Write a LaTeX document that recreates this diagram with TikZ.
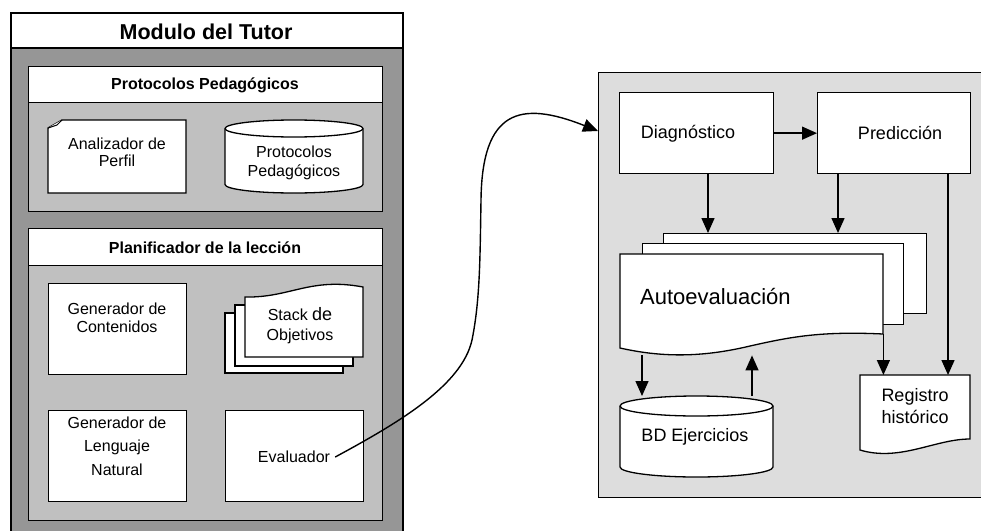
\documentclass[tikz,border=0pt]{standalone}
\usepackage{fontspec}
\setmainfont{Liberation Sans}
\usetikzlibrary{arrows.meta}
\definecolor{dgray}{RGB}{150,150,150}
\definecolor{mgray}{RGB}{192,192,192}
\definecolor{lgray}{RGB}{221,221,221}
\begin{document}
\begin{tikzpicture}[x=1pt,y=-1pt,
 shp/.style={draw=black,line width=1.3pt,fill=white,line join=miter},
 box/.style={shp,inner sep=0pt,anchor=north west},
 ghost/.style={inner sep=0pt,anchor=north west},
 arr/.style={draw=black,line width=1.4pt,-{Triangle[length=15pt,width=13pt]}},
 t16/.style={font=\fontsize{16}{17}\selectfont,align=center,inner sep=0pt},
 t18/.style={font=\fontsize{18}{22}\selectfont,align=center,inner sep=0pt},
 hdr/.style={font=\bfseries\fontsize{16}{19}\selectfont,inner sep=0pt},
]
\useasboundingbox (0,0) rectangle (981,530);
\fill[white] (0,0) rectangle (981,530);
% ---------- left module ----------
\node[box,fill=dgray,line width=2pt,minimum width=392,minimum height=540] (tutor) at (10,12) {};
\node[box,line width=2pt,minimum width=392,minimum height=35] (tutorh) at (10,12) {};
\node[font=\bfseries\fontsize{21.5}{24}\selectfont,inner sep=0pt] (tutort) at (206,32) {Modulo del Tutor};
% Protocolos block
\node[box,fill=mgray,minimum width=354,minimum height=145] (pp) at (28,66) {};
\node[box,minimum width=354,minimum height=36] (pph) at (28,66) {};
\node[hdr] (ppt) at (205,85) {Protocolos Pedagógicos};
% Analizador de perfil (note with folded corner)
\draw[shp] (62,120) -- (186,120) -- (186,193) -- (48,193) -- (48,128) -- cycle;
\draw[shp,line width=1pt] (48,128) -- (57,125) -- (62,120);
\node[t16] (analt) at (117,152) {Analizador de\\Perfil};
% cylinder protocolos
\draw[shp] (225,128.5) -- (225,184.5) arc[start angle=180,end angle=360,x radius=69pt,y radius=8.5pt] -- (363,128.5) arc[start angle=0,end angle=180,x radius=69pt,y radius=8.5pt] -- cycle;
\draw[shp,fill=none] (225,128.5) arc[start angle=180,end angle=360,x radius=69pt,y radius=8.5pt];
\node[t16,font=\fontsize{16}{19}\selectfont] (ppcyl) at (294,163) {Protocolos\\Pedagógicos};
% Planificador block
\node[box,fill=mgray,minimum width=354,minimum height=292] (plan) at (28,228) {};
\node[box,minimum width=354,minimum height=37] (planh) at (28,228) {};
\node[hdr] (plant) at (205,247.5) {Planificador de la lección};
\node[box,minimum width=138,minimum height=91] (gc) at (48,283) {};
\node[t16,font=\fontsize{16}{18}\selectfont] (gct) at (117,318) {Generador de\\Contenidos};
% stack de objetivos
\draw[shp] (225,313) rectangle (343,373);
\draw[shp] (235,305) rectangle (353,366);
\draw[shp] (245,297) .. controls (290,298) and (310,277) .. (363,287) -- (363,357) -- (245,357) -- cycle;
\node[t16,font=\fontsize{16}{20}\selectfont] (stack) at (300,326) {Stack {\fontsize{18}{18}\selectfont de}\\Objetivos};
\node[box,minimum width=138,minimum height=91] (gl) at (48,410) {};
\node[t16,font=\fontsize{16}{23.5}\selectfont] (glt) at (117,446) {Generador de\\Lenguaje\\Natural};
\node[box,minimum width=138,minimum height=91] (ev) at (225,410) {};
\node[t16] (evt) at (294,457) {Evaluador};
% ---------- right block ----------
\node[box,fill=lgray,minimum width=420,minimum height=425] (rbox) at (598,72) {};
\node[box,minimum width=154,minimum height=81] (diag) at (619,92) {};
\node[t18] (diagt) at (688,134) {Diagnóstico};
\node[box,minimum width=153,minimum height=81] (pred) at (817,92) {};
\node[t18] (predt) at (900,133) {Predicción};
% autoevaluacion stack
\node[box,minimum width=263,minimum height=80] (autob) at (663,233) {};
\node[box,minimum width=261,minimum height=81] (autom) at (642,243) {};
\draw[shp] (620,254) -- (883,254) -- (883,334) .. controls (820,331) and (790,337) .. (750,346) .. controls (700,358) and (660,357) .. (620,348) -- cycle;
\node[ghost,minimum width=263,minimum height=101] (autof) at (620,254) {};
\node[font=\fontsize{22}{24}\selectfont,inner sep=0pt,anchor=west] (autot) at (640,297) {Autoevaluación};
% BD ejercicios cylinder
\draw[shp] (620,406) -- (620,467) arc[start angle=180,end angle=360,x radius=76.5pt,y radius=10pt] -- (773,406) arc[start angle=0,end angle=180,x radius=76.5pt,y radius=10pt] -- cycle;
\draw[shp,fill=none] (620,406) arc[start angle=180,end angle=360,x radius=76.5pt,y radius=10pt];
\node[ghost,minimum width=153,minimum height=81] (bd) at (620,396) {};
\node[t18] (bdt) at (695,437) {BD Ejercicios};
% Registro historico
\draw[shp] (860,375) -- (970,375) -- (970,439) .. controls (935,439) and (900,462) .. (860,450) -- cycle;
\node[ghost,minimum width=110,minimum height=80] (reg) at (860,375) {};
\node[t18] (regt) at (915,406) {Registro\\histórico};
% ---------- connectors ----------
\draw[arr] (diag.east) -- (pred.west);
\draw[arr] (708,0 |- diag.south) -- (708,0 |- autob.north);
\draw[arr] (838,0 |- pred.south) -- (838,0 |- autob.north);
\draw[arr] (948,0 |- pred.south) -- (948,0 |- reg.north);
\draw[arr] (autof.east |- 0,334) -- (autof.east |- reg.north);
\draw[arr] (642,0 |- autof.south) -- (642,0 |- bd.north);
\draw[arr] (752,0 |- bd.north) -- (752,0 |- autof.south);
\draw[arr] ([xshift=5pt]evt.east) .. controls (400,422) and (462,385) .. (472,340) .. controls (480,300) and (480,260) .. (481,200) .. controls (482,110) and (520,100) .. ([yshift=-59pt]rbox.north west);
\end{tikzpicture}
\end{document}
